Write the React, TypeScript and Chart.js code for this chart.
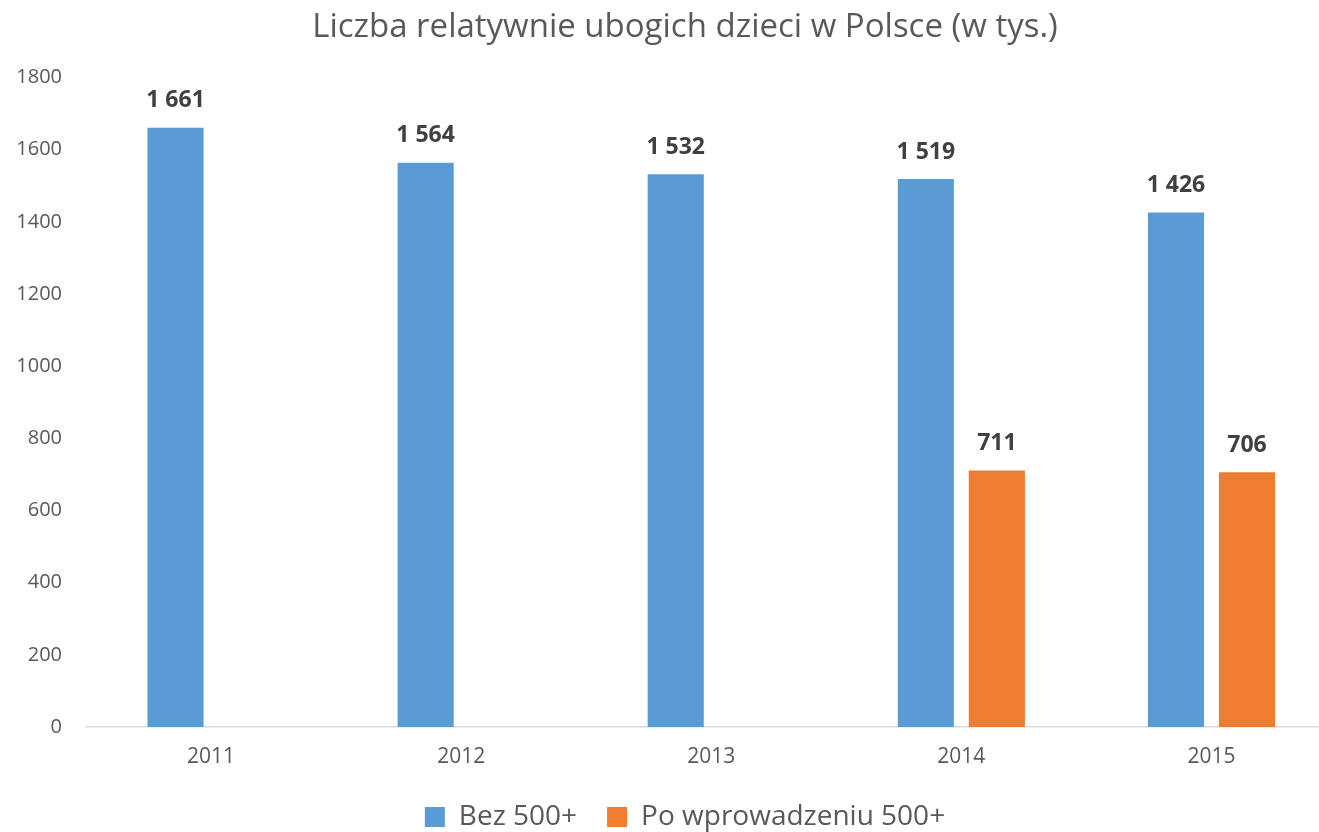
import React, { useEffect, useRef } from "react";
import { Chart, registerables } from "chart.js";

Chart.register(...registerables);

const years = ["2011", "2012", "2013", "2014", "2015"];
const bez500 = [1661, 1564, 1532, 1519, 1426];
const po500: (number | null)[] = [null, null, null, 711, 706];
const seriesNames = ["Bez 500+", "Po wprowadzeniu 500+"];
const yTicks = [0, 200, 400, 600, 800, 1000, 1200, 1400, 1600, 1800];
const titleText = "Liczba relatywnie ubogich dzieci w Polsce (w tys.)";

const FONT = "'Open Sans', 'DejaVu Sans', sans-serif";

function fmt(v: number) {
  const s = String(Math.round(v));
  return s.replace(/\B(?=(\d{3})+(?!\d))/g, " ");
}

const dataLabels = {
  id: "dataLabels",
  afterDatasetsDraw(chart: any) {
    const ctx = chart.ctx;
    ctx.save();
    ctx.font = `bold 23px ${FONT}`;
    ctx.fillStyle = "#404040";
    ctx.textAlign = "center";
    ctx.textBaseline = "middle";
    chart.data.datasets.forEach((ds: any, di: number) => {
      const meta = chart.getDatasetMeta(di);
      meta.data.forEach((el: any, i: number) => {
        const v = ds.data[i];
        if (v == null) return;
        ctx.fillText(fmt(v), el.x, el.y - 27);
      });
    });
    ctx.restore();
  },
};

export default function App() {
  const ref = useRef<HTMLCanvasElement>(null);
  useEffect(() => {
    if (!ref.current) return;
    const chart = new Chart(ref.current, {
      type: "bar",
      data: {
        labels: years,
        datasets: [
          {
            label: seriesNames[0],
            data: bez500,
            backgroundColor: "#5B9BD5",
            barPercentage: 0.79,
            categoryPercentage: 0.568,
          },
          {
            label: seriesNames[1],
            data: po500,
            backgroundColor: "#ED7D31",
            barPercentage: 0.79,
            categoryPercentage: 0.568,
          },
        ],
      },
      options: {
        responsive: false,
        animation: false,
        layout: { padding: { left: 0, right: 0, top: 8, bottom: 4 } },
        plugins: {
          title: {
            display: true,
            text: titleText,
            color: "#595959",
            font: { family: FONT, size: 33, weight: "normal" },
            padding: { top: 0, bottom: 30 },
          },
          legend: {
            position: "bottom",
            labels: {
              color: "#595959",
              font: { family: FONT, size: 28 },
              boxWidth: 20,
              boxHeight: 20,
              padding: 30,
            },
          },
          tooltip: { enabled: false },
        },
        scales: {
          x: {
            grid: { display: false },
            border: { display: true, color: "#D9D9D9", width: 1.5 },
            ticks: {
              color: "#595959",
              font: { family: FONT, size: 21 },
              padding: 9,
            },
            afterFit: (scale: any) => {
              scale.height = 46;
            },
          },
          y: {
            min: 0,
            max: 1800,
            afterBuildTicks: (scale: any) => {
              scale.ticks = yTicks.map((v) => ({ value: v }));
            },
            afterFit: (scale: any) => {
              scale.width = 86;
            },
            grid: { display: false },
            border: { display: false },
            ticks: {
              color: "#595959",
              font: { family: FONT, size: 20 },
              padding: 16,
              callback: (v: any) => String(v),
            },
          },
          yRight: {
            position: "right",
            display: true,
            grid: { display: false },
            border: { display: false },
            ticks: { display: false },
            afterFit: (scale: any) => {
              scale.width = 33.5;
            },
          },
        },
      },
      plugins: [dataLabels],
    });
    return () => chart.destroy();
  }, []);
  return (
    <div
      style={{
        position: "fixed",
        left: 0,
        top: 0,
        width: 1319,
        height: 832,
        overflow: "hidden",
        background: "#fff",
      }}
    >
      <canvas ref={ref} width={1370} height={845} style={{ display: "block" }} />
    </div>
  );
}
